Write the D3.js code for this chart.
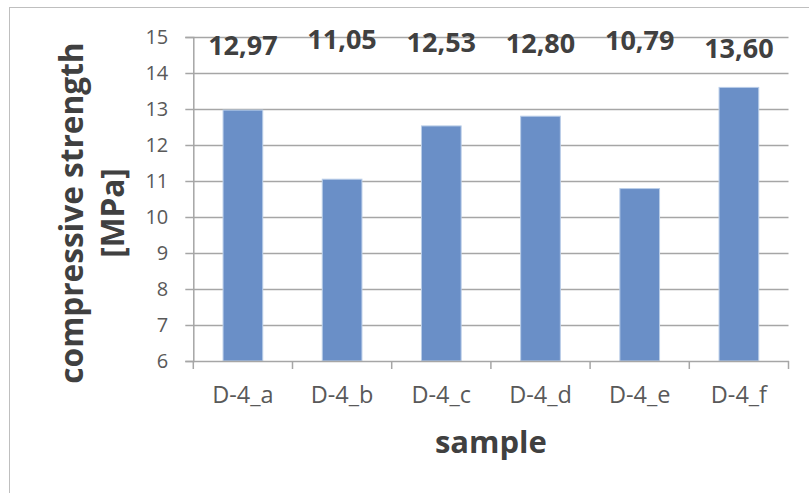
<!DOCTYPE html>
<html>

<head>
    <meta charset="UTF-8">
    <title>Compressive strength</title>
    <script src="https://d3js.org/d3.v7.min.js"></script>
    <style>
        body { margin: 0; background: white; }
        svg, svg text { font-family: "Open Sans", Lato, sans-serif; }
        .tick-label { font-size: 20px; fill: #595959; }
        .x-label { font-size: 23.5px; }
        .value-label { font-size: 27px; font-weight: bold; fill: #404040; }
        .axis-title { font-size: 31px; font-weight: bold; fill: #404040; }
        .y-title { font-size: 31.6px; }
    </style>
</head>

<body>
    <script>
        var samples = ["D-4_a", "D-4_b", "D-4_c", "D-4_d", "D-4_e", "D-4_f"];
        var strength = [12.97, 11.05, 12.53, 12.80, 10.79, 13.60];
        var yTicks = [6, 7, 8, 9, 10, 11, 12, 13, 14, 15];
        // small manual nudges of the value labels, as in the original
        var labelNudge = [0, -6, -3, -2, -5, 3];

        var width = 809, height = 493;
        var plotLeft = 193.3, plotRight = 788.5, plotTop = 37, plotBottom = 361;

        var svg = d3.select("body").append("svg")
            .attr("width", width).attr("height", height);

        // chart frame
        svg.append("rect")
            .attr("x", 9.5).attr("y", 7.5)
            .attr("width", 830).attr("height", 520)
            .attr("fill", "none").attr("stroke", "#BFBFBF");

        var x = d3.scaleBand().domain(samples).range([plotLeft, plotRight]).paddingInner(0.6).paddingOuter(0.3);
        var xb = d3.scaleBand().domain(samples).range([plotLeft, plotRight]);
        var y = d3.scaleLinear().domain([6, 15]).range([plotBottom, plotTop]);

        // gridlines
        svg.append("g").selectAll("line").data(yTicks.slice(1)).enter().append("line")
            .attr("x1", plotLeft).attr("x2", plotRight)
            .attr("y1", function (d) { return Math.round(y(d)) + 0.5; })
            .attr("y2", function (d) { return Math.round(y(d)) + 0.5; })
            .attr("stroke", "#A6A6A6").attr("stroke-width", 1.5);

        // bars
        svg.append("g").selectAll("rect").data(strength).enter().append("rect")
            .attr("x", function (d, i) { return x(samples[i]); })
            .attr("width", x.bandwidth())
            .attr("y", function (d) { return y(d); })
            .attr("height", function (d) { return plotBottom - y(d); })
            .attr("fill", "#6A8FC7")
            .attr("stroke", "#B9CDE8").attr("stroke-width", 1);

        // y axis
        var yAxis = svg.append("g").attr("transform", "translate(" + plotLeft + ",0)")
            .call(d3.axisLeft(y).tickValues(yTicks).tickSize(8).tickPadding(17))
            .attr("font-family", null).attr("font-size", null);
        yAxis.selectAll("line, path").attr("stroke", "#A6A6A6").attr("stroke-width", 1.5);
        yAxis.selectAll("text").attr("class", "tick-label");

        // x axis
        var xAxis = svg.append("g").attr("transform", "translate(0," + plotBottom + ")")
            .call(d3.axisBottom(xb).tickSize(0).tickPadding(25))
            .attr("font-family", null).attr("font-size", null);
        xAxis.select("path").attr("stroke", "#A6A6A6").attr("stroke-width", 1.5);
        xAxis.selectAll("text").attr("class", "tick-label x-label");
        svg.append("g").selectAll("line").data(samples.concat([null])).enter().append("line")
            .attr("x1", function (d, i) { return plotLeft + i * xb.step(); })
            .attr("x2", function (d, i) { return plotLeft + i * xb.step(); })
            .attr("y1", plotBottom).attr("y2", plotBottom + 8)
            .attr("stroke", "#A6A6A6").attr("stroke-width", 1.5);

        // value labels
        svg.append("g").selectAll("text").data(strength).enter().append("text")
            .attr("class", "value-label")
            .attr("text-anchor", "middle")
            .attr("x", function (d, i) { return x(samples[i]) + x.bandwidth() / 2; })
            .attr("y", function (d, i) { return plotTop + 18 + labelNudge[i]; })
            .text(function (d) { return d.toFixed(2).replace(".", ","); });

        // axis titles
        svg.append("text").attr("class", "axis-title")
            .attr("text-anchor", "middle")
            .attr("x", (plotLeft + plotRight) / 2).attr("y", 453)
            .text("sample");

        var yTitle = svg.append("text").attr("class", "axis-title y-title")
            .attr("text-anchor", "middle")
            .attr("transform", "translate(83,213) rotate(-90)");
        yTitle.append("tspan").attr("x", 0).attr("y", 0).text("compressive strength");
        yTitle.append("tspan").attr("x", 0).attr("y", 41).text("[MPa]");
    </script>
</body>

</html>
